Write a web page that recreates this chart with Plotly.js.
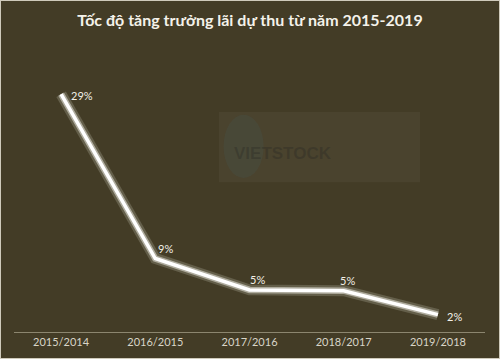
<!DOCTYPE html>
<html>
<head>
<meta charset="utf-8">
<script src="https://cdn.plot.ly/plotly-3.0.1.min.js"></script>
<style>
html,body{margin:0;padding:0;background:#433c26;}
#wrap{width:498px;height:357px;border:1px solid #cfcabb;}
#chart{width:498px;height:357px;}
</style>
</head>
<body>
<div id="wrap"><div id="chart"></div></div>
<script>
const categories = ["2015/2014", "2016/2015", "2017/2016", "2018/2017", "2019/2018"];
const growth = [28.8, 8.9, 5.1, 5.0, 2.1];
const labels = ["29%", "9%", "5%", "5%", "2%"];
const labelDx = [21, 10, 8, 4, 17];
const labelDy = [-1, 10, 10, 10, -2];

const glow = {
  x: categories, y: growth, type: "scatter", mode: "lines",
  line: {color: "rgba(200,198,185,0.25)", width: 11},
  hoverinfo: "skip", showlegend: false
};
const glow2 = {
  x: categories, y: growth, type: "scatter", mode: "lines",
  line: {color: "rgba(235,233,225,0.55)", width: 6.5},
  hoverinfo: "skip", showlegend: false
};
const main = {
  x: categories, y: growth, type: "scatter", mode: "lines",
  line: {color: "#ffffff", width: 3.5},
  showlegend: false
};

const labelFont = {family: "Lato, 'Open Sans', sans-serif", size: 11, color: "#f2f0e8"};
const anns = categories.map((c, i) => ({
  x: c, y: growth[i], xref: "x", yref: "y", text: labels[i], showarrow: false,
  xanchor: "center", yanchor: "middle", xshift: labelDx[i], yshift: labelDy[i], font: labelFont
}));
anns.push({xref: "paper", yref: "paper", x: 0.68, y: 0.69, text: "<b>VIETSTOCK</b>", showarrow: false,
  font: {family: "Liberation Sans, sans-serif", size: 17, color: "rgba(40,40,35,0.35)"}});

const layout = {
  width: 498, height: 357,
  paper_bgcolor: "#433c26", plot_bgcolor: "rgba(0,0,0,0)",
  margin: {l: 13, r: 14, t: 56, b: 26},
  title: {text: "<b>Tốc độ tăng trưởng lãi dự thu từ năm 2015-2019</b>",
          x: 0.5, xanchor: "center", y: 0.945, yanchor: "middle",
          font: {family: "Lato, 'Open Sans', sans-serif", size: 16, color: "#f4f2ea"}},
  xaxis: {type: "category", showgrid: false, zeroline: false,
          showline: true, linecolor: "#8c866f", linewidth: 1,
          ticks: "", tickfont: {family: "Lato, 'Open Sans', sans-serif", size: 11, color: "#d8d5c8"},
          range: [-0.5, 4.5]},
  yaxis: {range: [0, 33.3], visible: false, showgrid: false, zeroline: false},
  shapes: [
    {type: "rect", xref: "paper", yref: "paper", x0: 0.435, x1: 0.862, y0: 0.545, y1: 0.80,
     fillcolor: "rgba(255,255,255,0.04)", line: {width: 0}, layer: "below"},
    {type: "circle", xref: "paper", yref: "paper", x0: 0.445, x1: 0.53, y0: 0.56, y1: 0.79,
     fillcolor: "rgba(70,90,90,0.22)", line: {width: 0}, layer: "below"}
  ],
  annotations: anns
};

Plotly.newPlot("chart", [glow, glow2, main], layout, {displayModeBar: false, staticPlot: true});
</script>
</body>
</html>
